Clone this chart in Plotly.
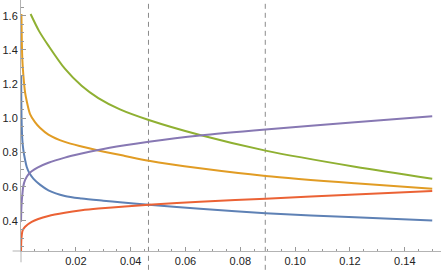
import plotly.graph_objects as go

# ---- data ----
blue_x = [0.00005, 0.0002, 0.0005, 0.00085, 0.0015, 0.0021, 0.003, 0.0045, 0.0069, 0.01, 0.016, 0.0221, 0.030, 0.0361, 0.0466, 0.0653, 0.0892, 0.1218, 0.15]
blue_y = [1.25, 1.0, 0.87, 0.815, 0.756, 0.715, 0.681, 0.647, 0.612, 0.579, 0.546, 0.531, 0.518, 0.509, 0.495, 0.471, 0.445, 0.421, 0.403]

orange_x = [0.00015, 0.0003, 0.0005, 0.00085, 0.0015, 0.0021, 0.0033, 0.0051, 0.0069, 0.01, 0.016, 0.0221, 0.0282, 0.0379, 0.0466, 0.0653, 0.0892, 0.1218, 0.15]
orange_y = [1.61, 1.45, 1.34, 1.255, 1.15, 1.10, 1.025, 0.978, 0.945, 0.905, 0.862, 0.835, 0.812, 0.78, 0.752, 0.708, 0.663, 0.62, 0.588]

green_x = [0.0035, 0.0066, 0.01, 0.016, 0.0221, 0.0282, 0.0361, 0.0466, 0.0653, 0.0892, 0.1218, 0.15]
green_y = [1.61, 1.51, 1.425, 1.29, 1.19, 1.118, 1.052, 0.99, 0.902, 0.811, 0.717, 0.647]

red_x = [0.00002, 0.0001, 0.0003, 0.0006, 0.0015, 0.0039, 0.01, 0.016, 0.0221, 0.0282, 0.0379, 0.0466, 0.0653, 0.0892, 0.1218, 0.15]
red_y = [0.224, 0.28, 0.32, 0.345, 0.366, 0.395, 0.429, 0.448, 0.462, 0.472, 0.484, 0.494, 0.512, 0.530, 0.555, 0.575]

purple_x = [0.00002, 0.0001, 0.0003, 0.0005, 0.0008, 0.0015, 0.0027, 0.0039, 0.006, 0.01, 0.016, 0.0221, 0.0282, 0.0379, 0.0466, 0.0653, 0.0892, 0.1218, 0.15]
purple_y = [0.395, 0.46, 0.52, 0.555, 0.60, 0.64, 0.672, 0.69, 0.712, 0.74, 0.77, 0.794, 0.815, 0.842, 0.863, 0.90, 0.935, 0.977, 1.012]

dashed_x = [0.0465, 0.0891]

x_tick_vals = [0.02, 0.04, 0.06, 0.08, 0.10, 0.12, 0.14]
x_tick_text = ["0.02", "0.04", "0.06", "0.08", "0.10", "0.12", "0.14"]
y_tick_vals = [0.4, 0.6, 0.8, 1.0, 1.2, 1.4, 1.6]
y_tick_text = ["0.4", "0.6", "0.8", "1.0", "1.2", "1.4", "1.6"]

x_minor = [round(0.005 * i, 3) for i in range(1, 31)]
y_minor = [round(0.25 + 0.05 * i, 2) for i in range(0, 30)]

series = [
    (blue_x, blue_y, "#5E81B5"),
    (orange_x, orange_y, "#E19C24"),
    (green_x, green_y, "#8FB032"),
    (red_x, red_y, "#EB6235"),
    (purple_x, purple_y, "#8778B3"),
]

fig = go.Figure()
for xs, ys, col in series:
    fig.add_trace(go.Scatter(x=xs, y=ys, mode="lines",
                             line=dict(color=col, width=2, shape="spline", smoothing=0.8),
                             hoverinfo="skip", showlegend=False))

for dx in dashed_x:
    fig.add_shape(type="line", xref="x", yref="paper", x0=dx, x1=dx, y0=-0.075, y1=0.985,
                  line=dict(color="#8a8a8a", width=1, dash="5px,4px"), layer="below")

axis_col = "#b3b3b3"
# x-axis stub left of the y-axis and y-axis stub below the x-axis
fig.add_shape(type="line", xref="paper", yref="paper", x0=-0.02, x1=0, y0=0, y1=0,
              line=dict(color=axis_col, width=1))
fig.add_shape(type="line", xref="paper", yref="paper", x0=0, x1=0, y0=0, y1=-0.045,
              line=dict(color=axis_col, width=1))

font = dict(family="Liberation Sans, Arial, sans-serif", size=11, color="#222222")

fig.update_layout(
    width=441, height=272, autosize=False,
    margin=dict(l=21, r=0, t=0, b=21),
    paper_bgcolor="white", plot_bgcolor="white",
    font=font,
    xaxis=dict(range=[0, 0.1532], showgrid=False, zeroline=False,
               showline=True, linecolor=axis_col, linewidth=1,
               ticks="inside", ticklen=4.5, tickcolor="#999999", tickwidth=1,
               tickvals=x_tick_vals, ticktext=x_tick_text, tickfont=font,
               minor=dict(tickvals=x_minor, ticks="inside", ticklen=2.5, tickcolor="#999999", showgrid=False)),
    yaxis=dict(range=[0.224, 1.692], showgrid=False, zeroline=False,
               showline=True, linecolor=axis_col, linewidth=1,
               ticks="inside", ticklen=4.5, tickcolor="#999999", tickwidth=1,
               tickvals=y_tick_vals, ticktext=y_tick_text, tickfont=font,
               minor=dict(tickvals=y_minor, ticks="inside", ticklen=2.5, tickcolor="#999999", showgrid=False)),
)

fig.write_html("out.html",
               config={"displayModeBar": False, "staticPlot": True},
               post_script="document.body.style.margin='0';document.body.style.overflow='hidden';")
